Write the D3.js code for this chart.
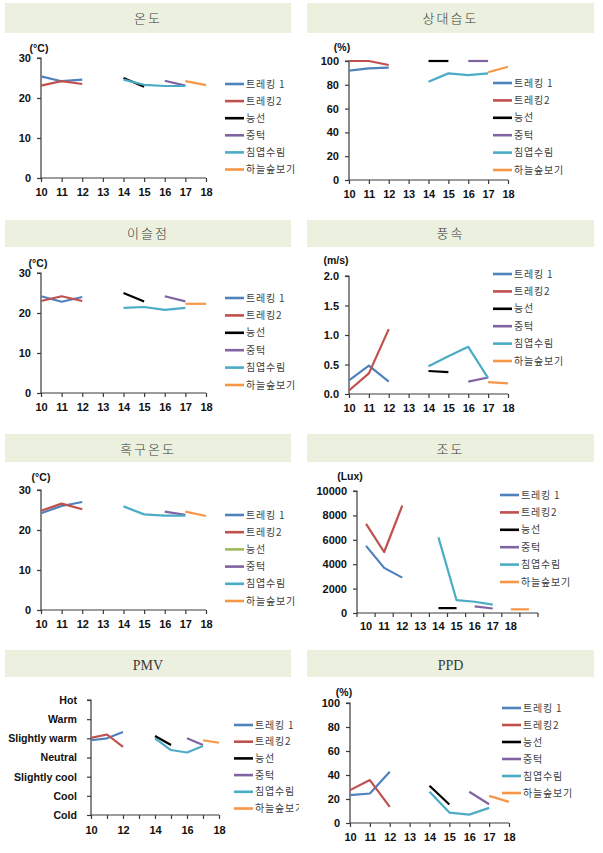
<!DOCTYPE html>
<html><head><meta charset="utf-8">
<script src="https://cdn.jsdelivr.net/npm/d3@7"></script>
<style>body{margin:0;background:#fff;} svg{display:block;}</style>
</head><body>
<svg id="c" width="603" height="853"></svg>
<script>
// ---------- data ----------
const hours = ["10","11","12","13","14","15","16","17","18"];
const illumCats = ["10","11","12","13","14","15","16","17","18",""];
const seriesNames = ["트레킹 1","트레킹2","능선","중턱","침엽수림","하늘숲보기"];
const seriesColors = ["#4F81BD","#C0504D","#000000","#8064A2","#4BACC6","#F79646"];
const globeColors  = ["#4F81BD","#C0504D","#9BBB59","#8064A2","#4BACC6","#F79646"];
const _ = null;

const tempValues = [
  [25.4,24.2,24.6,_,_,_,_,_,_],
  [23.1,24.2,23.5,_,_,_,_,_,_],
  [_,_,_,_,25.0,22.8,_,_,_],
  [_,_,_,_,_,_,24.3,23.1,_],
  [_,_,_,_,24.6,23.3,23.0,23.0,_],
  [_,_,_,_,_,_,_,24.2,23.2]
];
const humidValues = [
  [91.9,93.8,94.4,_,_,_,_,_,_],
  [100,100,96.6,_,_,_,_,_,_],
  [_,_,_,_,100,100,_,_,_],
  [_,_,_,_,_,_,100,100,_],
  [_,_,_,_,82.6,89.6,88.2,89.6,_],
  [_,_,_,_,_,_,_,90.5,95.2]
];
const dewValues = [
  [24.2,22.8,24.0,_,_,_,_,_,_],
  [23.0,24.2,23.0,_,_,_,_,_,_],
  [_,_,_,_,25.0,22.9,_,_,_],
  [_,_,_,_,_,_,24.2,22.9,_],
  [_,_,_,_,21.3,21.5,20.8,21.3,_],
  [_,_,_,_,_,_,_,22.3,22.3]
];
const windValues = [
  [0.23,0.48,0.21,_,_,_,_,_,_],
  [0.06,0.35,1.10,_,_,_,_,_,_],
  [_,_,_,_,0.39,0.37,_,_,_],
  [_,_,_,_,_,_,0.21,0.28,_],
  [_,_,_,_,0.47,0.64,0.80,0.27,_],
  [_,_,_,_,_,_,_,0.20,0.18]
];
const globeValues = [
  [24.2,26.0,27.0,_,_,_,_,_,_],
  [24.8,26.6,25.2,_,_,_,_,_,_],
  [_,_,_,_,_,_,_,_,_],
  [_,_,_,_,_,_,24.6,23.8,_],
  [_,_,_,_,25.9,23.9,23.6,23.6,_],
  [_,_,_,_,_,_,_,24.6,23.5]
];
const illumValues = [
  [5500,3700,2900,_,_,_,_,_,_,_],
  [7300,5000,8800,_,_,_,_,_,_,_],
  [_,_,_,_,400,400,_,_,_,_],
  [_,_,_,_,_,_,550,370,_,_],
  [_,_,_,_,6200,1050,920,680,_,_],
  [_,_,_,_,_,_,_,_,300,300]
];
const pmvLevels = ["Cold","Cool","Slightly cool","Neutral","Slightly warm","Warm","Hot"];
const pmvValues = [
  [0.9,1.0,1.33,_,_,_,_,_,_],
  [1.02,1.2,0.56,_,_,_,_,_,_],
  [_,_,_,_,1.12,0.65,_,_,_],
  [_,_,_,_,_,_,1.0,0.65,_],
  [_,_,_,_,1.0,0.39,0.26,0.6,_],
  [_,_,_,_,_,_,_,0.9,0.77]
];
const ppdValues = [
  [23.2,24.6,42.7,_,_,_,_,_,_],
  [27.4,35.8,13.4,_,_,_,_,_,_],
  [_,_,_,_,31.0,15.4,_,_,_],
  [_,_,_,_,_,_,26.0,15.6,_],
  [_,_,_,_,26.0,8.7,7.0,12.6,_],
  [_,_,_,_,_,_,_,22.6,17.6]
];

// ---------- layout ----------
const panels = [
  {title:"온도", band:[5,3,286,30], ty:18, x0:41,x1:206,yT:58,yB:178, dom:[0,30], ticks:[0,10,20,30], fmt:d=>d, unit:"(°C)", ux:39, uy:48,
   lx:225, ly:84, lstep:17.1, values:tempValues, colors:seriesColors},
  {title:"상대습도", band:[307,3,287,30], ty:18, x0:349,x1:508,yT:61,yB:180, dom:[0,100], ticks:[0,20,40,60,80,100], fmt:d=>d, unit:"(%)", ux:342, uy:47,
   lx:493, ly:83, lstep:17.4, values:humidValues, colors:seriesColors},
  {title:"이슬점", band:[5,220,286,27], ty:233, x0:41,x1:206,yT:273,yB:393, dom:[0,30], ticks:[0,10,20,30], fmt:d=>d, unit:"(°C)", ux:38, uy:263,
   lx:225, ly:298, lstep:17.4, values:dewValues, colors:seriesColors},
  {title:"풍속", band:[307,220,287,27], ty:233, x0:349,x1:508,yT:276,yB:394, dom:[0,2], ticks:[0,0.5,1,1.5,2], fmt:d3.format(".1f"), unit:"(m/s)", ux:336, uy:260,
   lx:493, ly:274, lstep:17.4, values:windValues, colors:seriesColors},
  {title:"흑구온도", band:[5,434,286,28], ty:449, x0:41,x1:206,yT:490,yB:610, dom:[0,30], ticks:[0,10,20,30], fmt:d=>d, unit:"(°C)", ux:41, uy:477,
   lx:225, ly:515, lstep:17.2, values:globeValues, colors:globeColors},
  {title:"조도", band:[307,434,287,28], ty:449, x0:357,x1:538,yT:491,yB:613, dom:[0,10000], ticks:[0,2000,4000,6000,8000,10000], fmt:d=>d, unit:"(Lux)", ux:350, uy:476,
   lx:500, ly:495, lstep:17.4, values:illumValues, colors:seriesColors, band10:true},
  {title:"PMV", band:[5,650,286,27], ty:665, x0:91,x1:219,yT:700,yB:815, dom:[-3,3], ticks:[-3,-2,-1,0,1,2,3], fmt:d=>pmvLevels[d+3], unit:null,
   lx:234, ly:725, lstep:16.7, values:pmvValues, colors:seriesColors, pmv:true},
  {title:"PPD", band:[307,650,287,27], ty:665, x0:350,x1:509,yT:703,yB:823, dom:[0,100], ticks:[0,20,40,60,80,100], fmt:d=>d, unit:"(%)", ux:344, uy:692,
   lx:502, ly:708, lstep:17, values:ppdValues, colors:seriesColors}
];

const svg = d3.select("#c");
const axisColor = "#3a3a3a";
const numFont = "'Liberation Sans', Arial, sans-serif";
const korFont = "'Noto Sans CJK KR', sans-serif";

panels.forEach((p,pi) => {
  const g = svg.append("g");
  const clipId = "clip"+pi;
  const cx = p.band[0] < 300 ? 0 : 300;
  svg.append("clipPath").attr("id",clipId).append("rect")
    .attr("x",cx).attr("y",0).attr("width",cx===0?299:303).attr("height",853);
  g.attr("clip-path",`url(#${clipId})`);

  // title band
  g.append("rect").attr("x",p.band[0]).attr("y",p.band[1]).attr("width",p.band[2]).attr("height",p.band[3])
    .attr("fill","#EBF1DE");
  g.append("text").attr("x",p.band[0]+p.band[2]/2).attr("y",p.ty).attr("dy","0.35em")
    .attr("text-anchor","middle").attr("font-family","'Liberation Serif', 'Noto Sans CJK KR', serif")
    .attr("font-size",p.pmv||p.title==="PPD"?14:13).attr("font-weight",300)
    .attr("letter-spacing",p.pmv||p.title==="PPD"?0:2).attr("fill","#3a3a3a").text(p.title);

  const y = d3.scaleLinear().domain(p.dom).range([p.yB,p.yT]);
  const cats = p.band10 ? illumCats : hours;
  let x, xPos;
  if (p.band10) {
    x = d3.scaleBand().domain(cats).range([p.x0,p.x1]).paddingInner(0).paddingOuter(0);
    xPos = i => x(cats[i]) + x.bandwidth()/2;
  } else {
    x = d3.scalePoint().domain(cats).range([p.x0,p.x1]).padding(0);
    xPos = i => x(cats[i]);
  }

  // y axis
  const yAxis = d3.axisLeft(y).tickValues(p.ticks).tickFormat(p.fmt).tickSize(4).tickPadding(p.pmv?10:6);
  const ya = g.append("g").attr("transform",`translate(${p.x0},0)`).call(yAxis);
  ya.select(".domain").attr("stroke",axisColor).attr("stroke-width",1.2).attr("d",`M-4,${p.yT}H0V${p.yB}`);
  ya.selectAll(".tick line").attr("stroke",axisColor).attr("stroke-width",1.2);
  ya.selectAll(".tick text").attr("font-family",numFont).attr("font-weight","bold")
    .attr("font-size",p.pmv?10.6:11).attr("fill","#111");

  // x axis
  const xa = g.append("g").attr("transform",`translate(0,${p.yB})`);
  if (p.band10) {
    xa.call(d3.axisBottom(x).tickSize(0).tickPadding(9));
    const edges = cats.map(c=>x(c)).concat([p.x1]);
    xa.selectAll("line.edge").data(edges).join("line").attr("class","edge")
      .attr("x1",d=>d).attr("x2",d=>d).attr("y1",0).attr("y2",4).attr("stroke",axisColor).attr("stroke-width",1.2);
  } else {
    const xAxis = d3.axisBottom(x).tickSize(4).tickPadding(p.pmv?7:6)
      .tickFormat(d => p.pmv ? (+d % 2 === 0 ? d : "") : d);
    xa.call(xAxis);
  }
  xa.select(".domain").attr("stroke",axisColor).attr("stroke-width",1.2).attr("d",`M${p.x0},0H${p.x1}`);
  xa.selectAll(".tick line").attr("stroke",axisColor).attr("stroke-width",1.2);
  xa.selectAll(".tick text").attr("font-family",numFont).attr("font-weight","bold").attr("font-size",11).attr("fill","#111");

  // unit
  if (p.unit) {
    g.append("text").attr("x",p.ux).attr("y",p.uy).attr("dy","0.35em").attr("text-anchor","middle")
      .attr("font-family",numFont).attr("font-weight","bold").attr("font-size",10.5).attr("fill","#111").text(p.unit);
  }

  // lines
  const line = d3.line().defined(d=>d.v!=null).x(d=>xPos(d.i)).y(d=>y(d.v));
  p.values.forEach((vals,si) => {
    const pts = vals.map((v,i)=>({v,i}));
    g.append("path").datum(pts).attr("d",line).attr("fill","none")
      .attr("stroke",p.colors[si]).attr("stroke-width",2.2).attr("stroke-linejoin","round");
  });

  // legend
  seriesNames.forEach((nm,si) => {
    const ly = p.ly + si*p.lstep;
    g.append("line").attr("x1",p.lx).attr("x2",p.lx+19).attr("y1",ly).attr("y2",ly)
      .attr("stroke",p.colors[si]).attr("stroke-width",2.6);
    g.append("text").attr("x",p.lx+21).attr("y",ly).attr("dy","0.35em")
      .attr("font-family",korFont).attr("font-size",10).attr("letter-spacing",0.8).attr("fill","#404040").text(nm);
  });
});
</script>
</body></html>
